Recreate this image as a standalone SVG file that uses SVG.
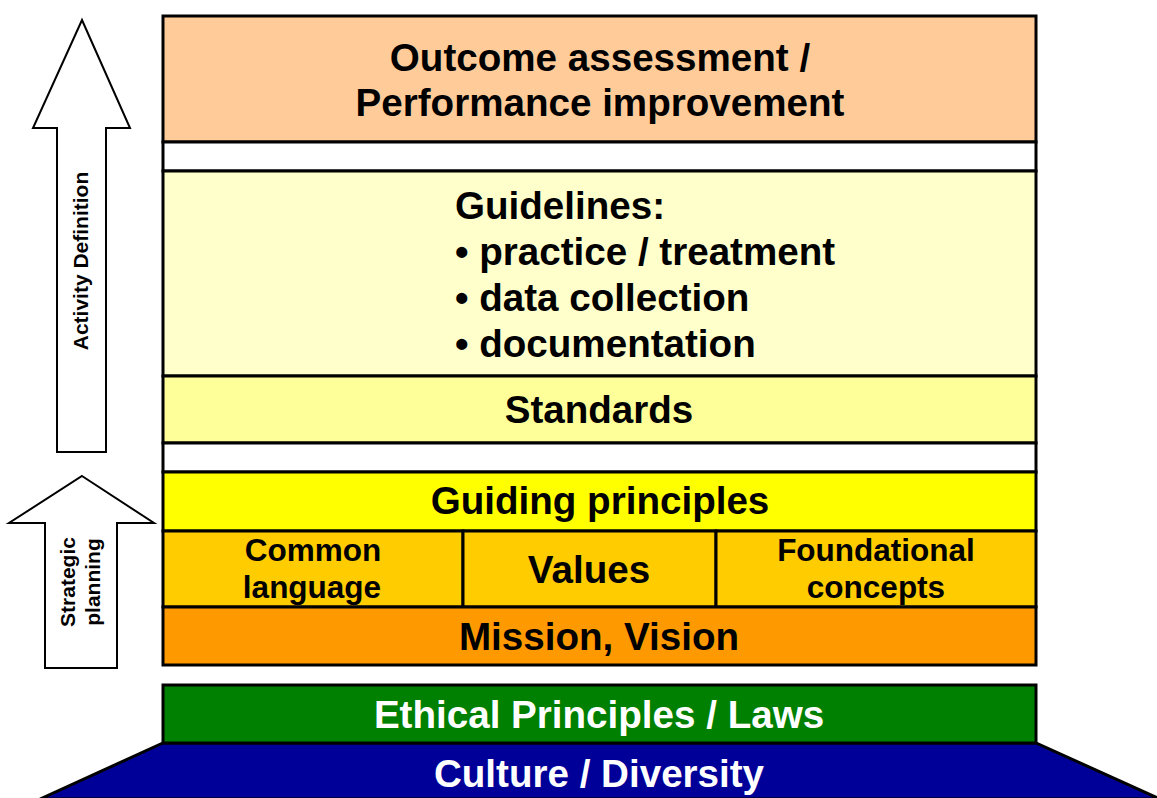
<svg xmlns="http://www.w3.org/2000/svg" width="1157" height="798" viewBox="0 0 1157 798">
  <style>
    .box { stroke: #000; stroke-width: 3; }
    .arrow { fill: #fff; stroke: #000; stroke-width: 2; stroke-linejoin: miter; }
    text { font-family: "Liberation Sans", Arial, sans-serif; font-weight: bold; fill: #000; }
    .big { font-size: 38.6px; }
    .mid { font-size: 31.5px; }
    .side { font-size: 21px; }
    .light { fill: #fff; }
  </style>

  <!-- Side arrows -->
  <g id="activity-definition">
    <polygon class="arrow" points="82,20 130,128 106,128 106,452 57,452 57,128 33,128"/>
    <text class="side" text-anchor="middle" transform="translate(88,261) rotate(-90)">Activity Definition</text>
  </g>
  <g id="strategic-planning">
    <polygon class="arrow" points="82,476 154,523 117,523 117,668 45,668 45,523 9,523"/>
    <text class="side" text-anchor="middle" transform="translate(75,582) rotate(-90)">Strategic</text>
    <text class="side" text-anchor="middle" transform="translate(100,582) rotate(-90)">planning</text>
  </g>

  <!-- Stack of layers -->
  <g id="outcome-assessment">
    <rect class="box" x="163" y="16" width="873" height="126" fill="#FFCC99"/>
    <text class="big" x="600" y="71" text-anchor="middle">Outcome assessment /</text>
    <text class="big" x="600" y="116" text-anchor="middle">Performance improvement</text>
  </g>
  <g id="gap-upper">
    <rect class="box" x="163" y="142" width="873" height="29" fill="#fff"/>
  </g>
  <g id="guidelines">
    <rect class="box" x="163" y="171" width="873" height="205" fill="#FFFFCC"/>
    <text class="big" x="455" y="219">Guidelines:</text>
    <text class="big" x="455" y="265">• practice / treatment</text>
    <text class="big" x="455" y="311">• data collection</text>
    <text class="big" x="455" y="357">• documentation</text>
  </g>
  <g id="standards">
    <rect class="box" x="163" y="376" width="873" height="67" fill="#FFFF99"/>
    <text class="big" x="599" y="423" text-anchor="middle">Standards</text>
  </g>
  <g id="gap-lower">
    <rect class="box" x="163" y="443" width="873" height="29" fill="#fff"/>
  </g>
  <g id="guiding-principles">
    <rect class="box" x="163" y="472" width="873" height="59" fill="#FFFF00"/>
    <text class="big" x="600" y="514" text-anchor="middle">Guiding principles</text>
  </g>
  <g id="common-language">
    <rect class="box" x="163" y="531" width="300" height="76" fill="#FFCC00"/>
    <text class="mid" x="313" y="561" text-anchor="middle">Common</text>
    <text class="mid" x="312" y="598" text-anchor="middle">language</text>
  </g>
  <g id="values">
    <rect class="box" x="463" y="531" width="253" height="76" fill="#FFCC00"/>
    <text class="big" x="589" y="583" text-anchor="middle">Values</text>
  </g>
  <g id="foundational-concepts">
    <rect class="box" x="716" y="531" width="320" height="76" fill="#FFCC00"/>
    <text class="mid" x="876" y="561" text-anchor="middle">Foundational</text>
    <text class="mid" x="876" y="598" text-anchor="middle">concepts</text>
  </g>
  <g id="mission-vision">
    <rect class="box" x="163" y="607" width="873" height="58" fill="#FF9900"/>
    <text class="big" x="599" y="650" text-anchor="middle">Mission, Vision</text>
  </g>

  <!-- Foundation -->
  <g id="culture-diversity">
    <polygon class="box" points="163,743 1036,743 1160,799 40,799" fill="#000099"/>
    <text class="big light" x="599" y="787" text-anchor="middle">Culture / Diversity</text>
  </g>
  <g id="ethical-principles">
    <rect class="box" x="163" y="685" width="873" height="58" fill="#008000"/>
    <text class="big light" x="599" y="728" text-anchor="middle">Ethical Principles / Laws</text>
  </g>

  <g id="connectors"/>
</svg>
